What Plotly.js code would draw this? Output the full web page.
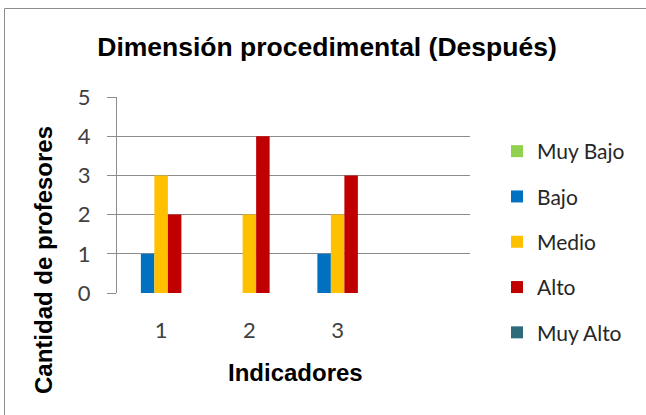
<!DOCTYPE html>
<html><head><meta charset="utf-8">
<script src="https://cdn.plot.ly/plotly-3.0.1.min.js"></script>
<style>html,body{margin:0;padding:0;background:#fff;}</style>
</head><body>
<div id="chart" style="width:646px;height:415px;"></div>
<script>
const categories = [1, 2, 3];
const tickLabels = ['1', '2', '3'];
const seriesNames = ['Muy Bajo', 'Bajo', 'Medio', 'Alto', 'Muy Alto'];
const muyBajo = [0, 0, 0];
const bajo = [1, 0, 1];
const medio = [3, 2, 2];
const alto = [2, 4, 3];
const muyAlto = [0, 0, 0];
const colors = ['#92D050', '#0070C0', '#FFC000', '#C00000', '#2E6B7A'];
const values = [muyBajo, bajo, medio, alto, muyAlto];

const traces = seriesNames.map((n, i) => ({
  type: 'bar', name: n, x: categories, y: values[i],
  marker: {color: colors[i], line: {width: 0}},
  legendgroup: 'g' + i, hoverinfo: 'skip'
}));

const W = 646, H = 415, L = 117, R = 470, T = 97, B = 293;
const px = v => (v - L) / (R - L);
const py = v => (B - v) / (B - T);

const layout = {
  width: W, height: H,
  margin: {l: L, r: W - R, t: T, b: H - B, pad: 0},
  paper_bgcolor: '#fff', plot_bgcolor: '#fff',
  barmode: 'group', bargap: 0.235, bargroupgap: 0,
  font: {family: 'Lato, "Noto Sans", sans-serif', color: '#404040', size: 17},
  title: {text: 'Dimensión procedimental (Después)', font: {family: '"Liberation Sans", Arial, sans-serif', size: 26.5, color: '#000', weight: 'bold'},
          x: 327 / W, xref: 'container', xanchor: 'center', y: 1 - 47 / H, yref: 'container', yanchor: 'middle'},
  xaxis: {range: [0.5, 4.5], tickvals: categories, ticktext: tickLabels, showgrid: false, zeroline: false,
          showline: false, ticks: '', tickfont: {size: 22, color: '#404040'}, ticklabelstandoff: 22, fixedrange: true},
  yaxis: {range: [0, 5], dtick: 1, showgrid: true, gridcolor: '#8c8c8c', gridwidth: 1, zeroline: false,
          showline: true, linecolor: '#8c8c8c', linewidth: 1, ticks: 'outside', ticklen: 9, tickcolor: '#8c8c8c',
          tickfont: {size: 22, color: '#404040'}, ticklabelstandoff: 12, fixedrange: true},
  showlegend: true,
  legend: {x: px(497), xanchor: 'left', y: py(131), yanchor: 'top', traceorder: 'grouped', tracegroupgap: 15,
           maxheight: 400, font: {size: 21, color: '#262626'}, bgcolor: 'rgba(0,0,0,0)'},
  annotations: [
    {text: 'Cantidad de profesores', xref: 'paper', yref: 'paper', x: px(43), y: py(260), xanchor: 'center', yanchor: 'middle',
     textangle: -90, showarrow: false, font: {family: '"Liberation Sans", Arial, sans-serif', size: 24, color: '#000', weight: 'bold'}},
    {text: 'Indicadores', xref: 'paper', yref: 'paper', x: px(295), y: py(372), xanchor: 'center', yanchor: 'middle',
     showarrow: false, font: {family: '"Liberation Sans", Arial, sans-serif', size: 24, color: '#000', weight: 'bold'}}
  ],
  shapes: [
    {type: 'line', xref: 'paper', yref: 'paper', x0: px(4.5), x1: px(4.5), y0: py(H + 5), y1: py(8.5), line: {color: '#8c8c8c', width: 1}},
    {type: 'line', xref: 'paper', yref: 'paper', x0: px(4.5), x1: px(W + 5), y0: py(8.5), y1: py(8.5), line: {color: '#8c8c8c', width: 1}}
  ]
};
Plotly.newPlot('chart', traces, layout, {displayModeBar: false, staticPlot: true});
</script>
</body></html>
